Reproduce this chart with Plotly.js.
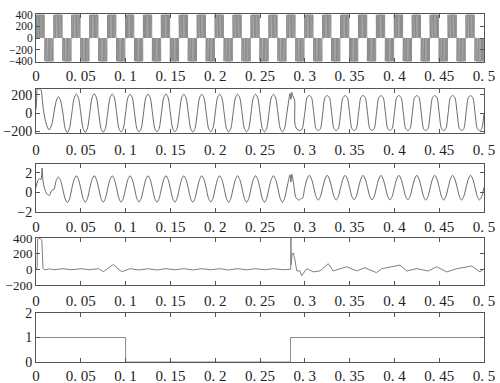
<!DOCTYPE html>
<html><head><meta charset="utf-8">
<script src="https://cdn.plot.ly/plotly-3.0.1.min.js"></script>
<style>html,body{margin:0;padding:0;background:#fff}#chart{width:500px;height:383px}</style>
</head><body><div id="chart"></div>
<script>
// ---------- shared time axis ----------
const timeTickVals = [0, 0.05, 0.1, 0.15, 0.2, 0.25, 0.3, 0.35, 0.4, 0.45, 0.5];
const timeTickText = ["0", "0. 05", "0. 1", "0. 15", "0. 2", "0. 25", "0. 3", "0. 35", "0. 4", "0. 45", "0. 5"];

// ---------- panel 1: PWM line voltage ----------
const pwmLevel = 395;
const pwmPosStart = [0, 0.0195, 0.0395, 0.0595, 0.0795, 0.0995, 0.1195, 0.1395, 0.1595, 0.1795,
  0.1995, 0.2195, 0.2395, 0.2595, 0.2795, 0.2995, 0.3195, 0.3395, 0.3595, 0.3795,
  0.3995, 0.4195, 0.4395, 0.4595, 0.4795];
const pwmPosLen = [0.0095, 0.01, 0.01, 0.01, 0.01, 0.01, 0.01, 0.01, 0.01, 0.01,
  0.01, 0.01, 0.01, 0.01, 0.01, 0.01, 0.01, 0.01, 0.01, 0.01,
  0.01, 0.01, 0.01, 0.01, 0.01];
const pwmNegStart = [0.0095, 0.0295, 0.0495, 0.0695, 0.0895, 0.1095, 0.1295, 0.1495, 0.1695, 0.1895,
  0.2095, 0.2295, 0.2495, 0.2695, 0.2895, 0.3095, 0.3295, 0.3495, 0.3695, 0.3895,
  0.4095, 0.4295, 0.4495, 0.4695, 0.4895];
const pwmNegLen = [0.01, 0.01, 0.01, 0.01, 0.01, 0.01, 0.01, 0.01, 0.01, 0.01,
  0.01, 0.01, 0.01, 0.01, 0.01, 0.01, 0.01, 0.01, 0.01, 0.01,
  0.01, 0.01, 0.01, 0.01, 0.0105];
const pulseCenterFrac = [0.06, 0.2, 0.35, 0.5, 0.65, 0.8, 0.94];
const pulseWidthFrac  = [0.05, 0.09, 0.12, 0.13, 0.12, 0.09, 0.05];

// ---------- panel 2: voltage (uniform samples every 2.5 ms) ----------
const vDt = 0.0025;
const voltSamples = [
  0, 200, 255, 200, 0, -140, -185, -130,
  0, 128, 178, 132, 0, -165, -215, -160,
  0, 160, 208, 160, 0, -165, -210, -162,
  0, 165, 210, 165, 0, -165, -208, -165,
  0, 165, 208, 165, 0, -165, -206, -165,
  0, 165, 206, 165, 0, -165, -206, -165,
  0, 165, 206, 165, 0, -165, -205, -165,
  0, 166, 208, 166, 0, -165, -204, -165,
  0, 165, 206, 165, 0, -165, -206, -165,
  0, 165, 205, 165, 0, -164, -205, -164,
  0, 165, 206, 165, 0, -165, -206, -165,
  0, 164, 205, 164, 0, -165, -205, -165,
  0, 165, 205, 165, 0, -165, -205, -165,
  0, 164, 205, 164, 0, -164, -205, -164,
  0, 150, 215, 160, -120, -175, -190, -160,
  0, 168, 192, 168, 0, -168, -192, -168,
  0, 168, 190, 168, 0, -168, -190, -168,
  0, 168, 190, 168, 0, -168, -191, -168,
  0, 168, 192, 168, 0, -168, -190, -168,
  0, 168, 190, 168, 0, -168, -190, -168,
  0, 168, 191, 168, 0, -168, -190, -168,
  0, 168, 190, 168, 0, -168, -192, -168,
  0, 168, 190, 168, 0, -168, -190, -168,
  0, 168, 192, 168, 0, -168, -190, -168,
  0, 168, 190, 168, 0, -168, -190, -168,
  0];
const voltStartT = [0, 0.0008, 0.0015, 0.004, 0.0058, 0.0066, 0.0085, 0.0115, 0.0145, 0.0175];
const voltStartV = [40, 160, 262, 262, 250, 190, 20, -120, -182, -128];
const voltFaultT = [0.28, 0.282, 0.2835, 0.2845, 0.2855, 0.287, 0.2885, 0.289, 0.291, 0.294, 0.2965];
const voltFaultV = [0, 130, 215, 150, 225, 175, 150, -120, -172, -190, -182];

// ---------- panel 3: current ----------
const curSamples = [
  0.5, 1.3, 1.5, 2.4, 0.5, -0.1, -0.25, 0.3,
  0.3, 1.2, 1.56, 1.2, 0.3, -0.65, -1.04, -0.65,
  0.4, 1.3, 1.7, 1.3, 0.4, -0.6, -1.0, -0.6,
  0.4, 1.3, 1.72, 1.3, 0.4, -0.6, -1.0, -0.6,
  0.4, 1.3, 1.7, 1.3, 0.4, -0.6, -1.0, -0.6,
  0.4, 1.3, 1.7, 1.3, 0.4, -0.6, -0.98, -0.6,
  0.4, 1.3, 1.7, 1.3, 0.4, -0.6, -1.0, -0.6,
  0.4, 1.3, 1.72, 1.3, 0.4, -0.6, -1.0, -0.6,
  0.4, 1.3, 1.7, 1.3, 0.4, -0.6, -1.0, -0.6,
  0.4, 1.3, 1.7, 1.3, 0.4, -0.6, -0.98, -0.6,
  0.4, 1.3, 1.7, 1.3, 0.4, -0.6, -1.0, -0.6,
  0.4, 1.3, 1.7, 1.3, 0.4, -0.6, -1.0, -0.6,
  0.4, 1.3, 1.7, 1.3, 0.4, -0.6, -1.0, -0.6,
  0.4, 1.3, 1.7, 1.3, 0.4, -0.6, -1.0, -0.6,
  0.45, 1.3, 1.8, 1.2, 0.2, -0.5, -0.78, -0.6,
  0.5, 1.35, 1.75, 1.35, 0.5, -0.4, -0.78, -0.4,
  0.5, 1.35, 1.75, 1.35, 0.5, -0.4, -0.78, -0.4,
  0.5, 1.35, 1.75, 1.35, 0.5, -0.4, -0.76, -0.4,
  0.5, 1.35, 1.75, 1.35, 0.5, -0.4, -0.78, -0.4,
  0.5, 1.35, 1.75, 1.35, 0.5, -0.4, -0.78, -0.4,
  0.5, 1.35, 1.75, 1.35, 0.5, -0.4, -0.76, -0.4,
  0.5, 1.35, 1.75, 1.35, 0.5, -0.4, -0.78, -0.4,
  0.5, 1.35, 1.75, 1.35, 0.5, -0.4, -0.78, -0.4,
  0.5, 1.35, 1.75, 1.35, 0.5, -0.4, -0.78, -0.4,
  0.5, 1.35, 1.75, 1.35, 0.5, -0.4, -0.76, -0.4,
  0.5];
const curStartT = [0, 0.002, 0.004, 0.0055, 0.0068, 0.0078, 0.0095, 0.0125, 0.015, 0.0175];
const curStartV = [0.5, 1.2, 1.4, 1.3, 2.5, 1.2, 0.4, -0.2, -0.3, 0.2];
const curFaultT = [0.28, 0.282, 0.2835, 0.2845, 0.2855, 0.287, 0.2885, 0.29, 0.2935, 0.2965];
const curFaultV = [0.45, 1.3, 1.8, 1.05, 1.85, 1.2, 0.2, -0.5, -0.78, -0.6];

// ---------- panel 4 ----------
const p4T = [0, 0.0012, 0.0018, 0.003, 0.005, 0.0065, 0.0072, 0.0078, 0.01, 0.015,
  0.02, 0.03, 0.04, 0.05, 0.06, 0.07, 0.0751, 0.08, 0.0863, 0.0956,
  0.105, 0.115, 0.125, 0.135, 0.145, 0.155, 0.165, 0.175, 0.185, 0.195,
  0.205, 0.215, 0.225, 0.235, 0.245, 0.255, 0.265, 0.275, 0.2843, 0.2845,
  0.2848, 0.2858, 0.2872, 0.289, 0.291, 0.2946, 0.2965, 0.302, 0.3095, 0.317,
  0.3262, 0.3318, 0.3467, 0.358, 0.367, 0.38, 0.3858, 0.4062, 0.4137, 0.4249,
  0.4379, 0.4472, 0.4584, 0.4695, 0.4863, 0.4955, 0.4993];
const p4V = [0, 20, 385, 400, 390, 380, 200, 10, -8, 6,
  -6, 8, -6, 8, -5, 8, -30, 8, 62, -30,
  8, -8, 8, -8, 8, -6, 8, -8, 8, -6,
  8, -8, 8, -6, 8, -6, 8, -5, 0, 480,
  60, 200, 208, 120, -20, -20, -83, 8, -33, -20,
  72, -20, 33, -20, 20, -42, 8, 54, -21, 8,
  -21, 33, -33, 8, 42, -33, 0];

// ---------- panel 5: switching state ----------
const stateT = [0, 0.1, 0.1, 0.284, 0.284, 0.5];
const stateV = [1, 1, 0, 0, 1, 1];

// ---------- builders ----------
function uniformWithEvents(vals, dt, events) {
  let pts = vals.map((v, i) => [+(i * dt).toFixed(5), v]);
  events.forEach(ev => {
    const lo = ev.t[0], hi = ev.t[ev.t.length - 1];
    pts = pts.filter(p => p[0] < lo - 1e-9 || p[0] > hi + 1e-9);
    ev.t.forEach((t, i) => pts.push([t, ev.v[i]]));
  });
  pts.sort((a, b) => a[0] - b[0]);
  return { x: pts.map(p => p[0]), y: pts.map(p => p[1]) };
}
function pwmTrace(starts, lens, sign) {
  const x = [], y = [];
  starts.forEach((s, k) => {
    const L = lens[k];
    pulseCenterFrac.forEach((c, j) => {
      const a = s + (c - pulseWidthFrac[j] / 2) * L;
      const b = s + (c + pulseWidthFrac[j] / 2) * L;
      x.push(a, a, b, b); y.push(0, sign * pwmLevel, sign * pwmLevel, 0);
    });
    x.push(null); y.push(null);
  });
  return { x, y };
}

const pwmPos = pwmTrace(pwmPosStart, pwmPosLen, 1);
const pwmNeg = pwmTrace(pwmNegStart, pwmNegLen, -1);
const volt = uniformWithEvents(voltSamples, vDt, [{ t: voltStartT, v: voltStartV }, { t: voltFaultT, v: voltFaultV }]);
const cur = uniformWithEvents(curSamples, vDt, [{ t: curStartT, v: curStartV }, { t: curFaultT, v: curFaultV }]);

const waveLine = { color: '#666', width: 1 };
const pwmLine = { color: '#8c8c8c', width: 1 };

const traces = [
  { x: pwmPos.x, y: pwmPos.y, xaxis: 'x', yaxis: 'y', mode: 'lines', line: pwmLine, connectgaps: false },
  { x: pwmNeg.x, y: pwmNeg.y, xaxis: 'x', yaxis: 'y', mode: 'lines', line: pwmLine, connectgaps: false },
  { x: volt.x, y: volt.y, xaxis: 'x2', yaxis: 'y2', mode: 'lines', line: Object.assign({ shape: 'spline', smoothing: 0.8 }, waveLine) },
  { x: cur.x, y: cur.y, xaxis: 'x3', yaxis: 'y3', mode: 'lines', line: Object.assign({ shape: 'spline', smoothing: 0.8 }, waveLine) },
  { x: p4T, y: p4V, xaxis: 'x4', yaxis: 'y4', mode: 'lines', line: { color: '#808080', width: 1 } },
  { x: stateT, y: stateV, xaxis: 'x5', yaxis: 'y5', mode: 'lines', line: { color: '#8c8c8c', width: 1 } }
];

const fam = 'Liberation Serif, Times New Roman, serif';
const font = { family: fam, size: 15, color: '#222' };
const base = {
  showline: true, linecolor: '#555', linewidth: 1, mirror: 'ticks',
  ticks: 'inside', ticklen: 4, tickcolor: '#555', tickwidth: 1,
  showgrid: false, zeroline: false, tickfont: font, fixedrange: true
};
function xAx(anchor, standoff) {
  return Object.assign({}, base, { anchor, domain: [0, 1], range: [0, 0.5], tickmode: 'array', tickvals: timeTickVals, ticktext: timeTickText, ticklabelstandoff: standoff });
}
function yAx(anchor, domain, range, vals, text, size) {
  return Object.assign({}, base, { anchor, domain, range, tickmode: 'array', tickvals: vals, ticktext: text, ticklabelstandoff: 0, tickfont: { family: fam, size, color: '#222' } });
}

const layout = {
  width: 500, height: 383,
  margin: { l: 36, r: 16, t: 0, b: 0 },
  paper_bgcolor: '#fff', plot_bgcolor: '#fff', showlegend: false,
  xaxis: xAx('y', 0), xaxis2: xAx('y2', 3), xaxis3: xAx('y3', 1), xaxis4: xAx('y4', 2), xaxis5: xAx('y5', 0),
  yaxis: yAx('x', [0.8381, 0.9634], [-410, 410], [-400, -200, 0, 200, 400], ['\u2212400', '\u2212200', '0', '200', '400'], 11.5),
  yaxis2: yAx('x2', [0.6527, 0.7676], [-217, 262], [-200, 0, 200], ['\u2212200', '0', '200'], 14),
  yaxis3: yAx('x3', [0.4465, 0.5718], [-2, 2.9], [-2, 0, 2], ['\u22122', '0', '2'], 14),
  yaxis4: yAx('x4', [0.2559, 0.3786], [-200, 400], [-200, 0, 200, 400], ['\u2212200', '0', '200', '400'], 13),
  yaxis5: yAx('x5', [0.0548, 0.1828], [0, 2], [0, 1, 2], ['0', '1', '2'], 14)
};

Plotly.newPlot('chart', traces, layout, { displayModeBar: false, staticPlot: true });
</script>
</body></html>
